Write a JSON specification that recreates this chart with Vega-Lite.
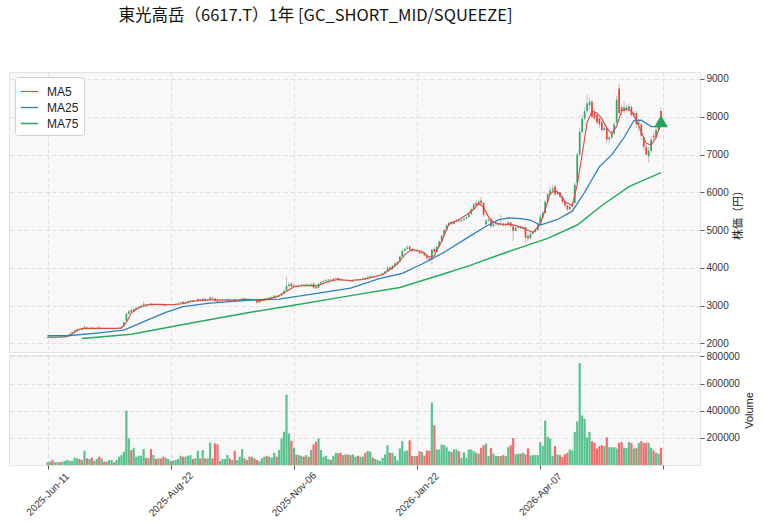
{
"$schema": "https://vega.github.io/schema/vega-lite/v6.json",
"padding": {"left": 8, "top": 8, "right": 0, "bottom": 0},
"background": "white",
"title": {"text": "東光高岳（6617.T）1年 [GC_SHORT_MID/SQUEEZE]", "font": "Noto Sans CJK JP", "fontSize": 16.5, "fontWeight": "normal", "color": "#111", "anchor": "start", "dx": 110, "offset": 47},
"datasets": {
"px": [
{"i":0,"o":2140,"h":2160,"l":2130,"c":2150,"v":20000},
{"i":1,"o":2150,"h":2170,"l":2140,"c":2160,"v":25000},
{"i":2,"o":2160,"h":2170,"l":2130,"c":2140,"v":37000},
{"i":3,"o":2140,"h":2160,"l":2130,"c":2150,"v":20000},
{"i":4,"o":2150,"h":2170,"l":2140,"c":2160,"v":22000},
{"i":5,"o":2160,"h":2170,"l":2140,"c":2150,"v":20000},
{"i":6,"o":2150,"h":2170,"l":2140,"c":2160,"v":24000},
{"i":7,"o":2160,"h":2180,"l":2150,"c":2170,"v":30000},
{"i":8,"o":2170,"h":2210,"l":2160,"c":2200,"v":37000},
{"i":9,"o":2200,"h":2270,"l":2190,"c":2250,"v":30000},
{"i":10,"o":2250,"h":2310,"l":2240,"c":2290,"v":32000},
{"i":11,"o":2290,"h":2360,"l":2280,"c":2340,"v":54000},
{"i":12,"o":2340,"h":2400,"l":2330,"c":2370,"v":49000},
{"i":13,"o":2380,"h":2400,"l":2340,"c":2360,"v":44000},
{"i":14,"o":2360,"h":2410,"l":2350,"c":2390,"v":37000},
{"i":15,"o":2390,"h":2480,"l":2380,"c":2430,"v":105000},
{"i":16,"o":2420,"h":2440,"l":2390,"c":2400,"v":49000},
{"i":17,"o":2400,"h":2430,"l":2390,"c":2410,"v":44000},
{"i":18,"o":2420,"h":2440,"l":2370,"c":2380,"v":54000},
{"i":19,"o":2380,"h":2410,"l":2370,"c":2400,"v":30000},
{"i":20,"o":2400,"h":2420,"l":2390,"c":2410,"v":44000},
{"i":21,"o":2420,"h":2450,"l":2370,"c":2380,"v":61000},
{"i":22,"o":2380,"h":2410,"l":2370,"c":2400,"v":49000},
{"i":23,"o":2400,"h":2410,"l":2380,"c":2390,"v":24000},
{"i":24,"o":2390,"h":2400,"l":2370,"c":2380,"v":24000},
{"i":25,"o":2380,"h":2400,"l":2370,"c":2390,"v":37000},
{"i":26,"o":2390,"h":2410,"l":2380,"c":2400,"v":37000},
{"i":27,"o":2400,"h":2410,"l":2370,"c":2380,"v":20000},
{"i":28,"o":2380,"h":2400,"l":2370,"c":2390,"v":37000},
{"i":29,"o":2390,"h":2420,"l":2380,"c":2410,"v":61000},
{"i":30,"o":2410,"h":2460,"l":2400,"c":2440,"v":73000},
{"i":31,"o":2450,"h":2580,"l":2440,"c":2560,"v":98000},
{"i":32,"o":2600,"h":2820,"l":2580,"c":2780,"v":399000},
{"i":33,"o":2780,"h":2880,"l":2760,"c":2850,"v":196000},
{"i":34,"o":2880,"h":2920,"l":2820,"c":2840,"v":110000},
{"i":35,"o":2840,"h":2930,"l":2830,"c":2900,"v":127000},
{"i":36,"o":2900,"h":2960,"l":2890,"c":2940,"v":61000},
{"i":37,"o":2940,"h":2990,"l":2930,"c":2970,"v":68000},
{"i":38,"o":2970,"h":3020,"l":2960,"c":3000,"v":68000},
{"i":39,"o":3000,"h":3100,"l":2990,"c":3040,"v":117000},
{"i":40,"o":3040,"h":3050,"l":3000,"c":3020,"v":54000},
{"i":41,"o":3020,"h":3050,"l":3010,"c":3040,"v":49000},
{"i":42,"o":3050,"h":3070,"l":3000,"c":3010,"v":117000},
{"i":43,"o":3010,"h":3040,"l":3000,"c":3030,"v":73000},
{"i":44,"o":3030,"h":3040,"l":3010,"c":3020,"v":44000},
{"i":45,"o":3020,"h":3040,"l":3010,"c":3030,"v":49000},
{"i":46,"o":3030,"h":3040,"l":3000,"c":3010,"v":49000},
{"i":47,"o":3020,"h":3030,"l":2990,"c":3000,"v":61000},
{"i":48,"o":3000,"h":3030,"l":2990,"c":3020,"v":54000},
{"i":49,"o":3020,"h":3040,"l":3010,"c":3030,"v":44000},
{"i":50,"o":3030,"h":3040,"l":3010,"c":3020,"v":29000},
{"i":51,"o":3020,"h":3040,"l":3010,"c":3030,"v":32000},
{"i":52,"o":3030,"h":3050,"l":3020,"c":3040,"v":37000},
{"i":53,"o":3040,"h":3070,"l":3030,"c":3060,"v":44000},
{"i":54,"o":3060,"h":3100,"l":3050,"c":3090,"v":68000},
{"i":55,"o":3100,"h":3110,"l":3050,"c":3060,"v":61000},
{"i":56,"o":3060,"h":3100,"l":3050,"c":3090,"v":61000},
{"i":57,"o":3090,"h":3130,"l":3080,"c":3120,"v":68000},
{"i":58,"o":3120,"h":3150,"l":3110,"c":3140,"v":73000},
{"i":59,"o":3140,"h":3150,"l":3110,"c":3120,"v":44000},
{"i":60,"o":3120,"h":3140,"l":3110,"c":3130,"v":49000},
{"i":61,"o":3120,"h":3200,"l":3110,"c":3170,"v":105000},
{"i":62,"o":3170,"h":3180,"l":3130,"c":3140,"v":49000},
{"i":63,"o":3140,"h":3200,"l":3130,"c":3180,"v":110000},
{"i":64,"o":3180,"h":3190,"l":3140,"c":3150,"v":49000},
{"i":65,"o":3150,"h":3170,"l":3140,"c":3160,"v":49000},
{"i":66,"o":3150,"h":3240,"l":3140,"c":3210,"v":164000},
{"i":67,"o":3210,"h":3220,"l":3180,"c":3190,"v":49000},
{"i":68,"o":3190,"h":3200,"l":3100,"c":3120,"v":159000},
{"i":69,"o":3130,"h":3140,"l":3060,"c":3090,"v":152000},
{"i":70,"o":3090,"h":3120,"l":3080,"c":3110,"v":29000},
{"i":71,"o":3110,"h":3140,"l":3100,"c":3130,"v":44000},
{"i":72,"o":3130,"h":3150,"l":3120,"c":3140,"v":44000},
{"i":73,"o":3140,"h":3190,"l":3130,"c":3170,"v":73000},
{"i":74,"o":3170,"h":3180,"l":3140,"c":3150,"v":49000},
{"i":75,"o":3150,"h":3170,"l":3140,"c":3160,"v":37000},
{"i":76,"o":3170,"h":3180,"l":3110,"c":3120,"v":105000},
{"i":77,"o":3120,"h":3150,"l":3110,"c":3140,"v":37000},
{"i":78,"o":3140,"h":3170,"l":3130,"c":3160,"v":61000},
{"i":79,"o":3160,"h":3210,"l":3150,"c":3190,"v":117000},
{"i":80,"o":3190,"h":3200,"l":3160,"c":3170,"v":49000},
{"i":81,"o":3170,"h":3190,"l":3160,"c":3180,"v":37000},
{"i":82,"o":3180,"h":3190,"l":3140,"c":3150,"v":61000},
{"i":83,"o":3150,"h":3170,"l":3140,"c":3160,"v":61000},
{"i":84,"o":3160,"h":3170,"l":3120,"c":3130,"v":49000},
{"i":85,"o":3130,"h":3140,"l":3050,"c":3080,"v":37000},
{"i":86,"o":3080,"h":3130,"l":3070,"c":3120,"v":29000},
{"i":87,"o":3120,"h":3170,"l":3110,"c":3160,"v":49000},
{"i":88,"o":3160,"h":3200,"l":3150,"c":3190,"v":61000},
{"i":89,"o":3200,"h":3210,"l":3170,"c":3180,"v":68000},
{"i":90,"o":3180,"h":3220,"l":3170,"c":3210,"v":61000},
{"i":91,"o":3210,"h":3240,"l":3200,"c":3230,"v":54000},
{"i":92,"o":3230,"h":3280,"l":3220,"c":3260,"v":90000},
{"i":93,"o":3260,"h":3270,"l":3230,"c":3240,"v":61000},
{"i":94,"o":3240,"h":3290,"l":3230,"c":3270,"v":110000},
{"i":95,"o":3270,"h":3350,"l":3260,"c":3320,"v":196000},
{"i":96,"o":3320,"h":3420,"l":3310,"c":3390,"v":245000},
{"i":97,"o":3400,"h":3760,"l":3390,"c":3520,"v":519000},
{"i":98,"o":3520,"h":3620,"l":3480,"c":3560,"v":232000},
{"i":99,"o":3580,"h":3610,"l":3480,"c":3500,"v":178000},
{"i":100,"o":3500,"h":3560,"l":3490,"c":3530,"v":127000},
{"i":101,"o":3530,"h":3540,"l":3490,"c":3510,"v":78000},
{"i":102,"o":3510,"h":3550,"l":3500,"c":3530,"v":73000},
{"i":103,"o":3530,"h":3570,"l":3520,"c":3550,"v":68000},
{"i":104,"o":3550,"h":3560,"l":3510,"c":3530,"v":61000},
{"i":105,"o":3530,"h":3580,"l":3520,"c":3560,"v":73000},
{"i":106,"o":3560,"h":3570,"l":3510,"c":3530,"v":61000},
{"i":107,"o":3530,"h":3600,"l":3520,"c":3560,"v":110000},
{"i":108,"o":3580,"h":3600,"l":3440,"c":3480,"v":152000},
{"i":109,"o":3500,"h":3530,"l":3430,"c":3460,"v":171000},
{"i":110,"o":3470,"h":3600,"l":3460,"c":3580,"v":196000},
{"i":111,"o":3580,"h":3640,"l":3570,"c":3620,"v":110000},
{"i":112,"o":3620,"h":3670,"l":3610,"c":3650,"v":61000},
{"i":113,"o":3650,"h":3690,"l":3640,"c":3670,"v":68000},
{"i":114,"o":3670,"h":3700,"l":3660,"c":3690,"v":44000},
{"i":115,"o":3690,"h":3700,"l":3670,"c":3680,"v":37000},
{"i":116,"o":3680,"h":3730,"l":3670,"c":3710,"v":68000},
{"i":117,"o":3710,"h":3750,"l":3700,"c":3730,"v":90000},
{"i":118,"o":3730,"h":3740,"l":3690,"c":3700,"v":86000},
{"i":119,"o":3700,"h":3710,"l":3650,"c":3660,"v":90000},
{"i":120,"o":3660,"h":3690,"l":3650,"c":3670,"v":73000},
{"i":121,"o":3670,"h":3680,"l":3640,"c":3650,"v":78000},
{"i":122,"o":3650,"h":3680,"l":3640,"c":3670,"v":78000},
{"i":123,"o":3670,"h":3680,"l":3630,"c":3640,"v":73000},
{"i":124,"o":3640,"h":3690,"l":3630,"c":3670,"v":78000},
{"i":125,"o":3670,"h":3700,"l":3660,"c":3690,"v":61000},
{"i":126,"o":3690,"h":3700,"l":3660,"c":3670,"v":68000},
{"i":127,"o":3670,"h":3710,"l":3660,"c":3700,"v":61000},
{"i":128,"o":3700,"h":3730,"l":3690,"c":3720,"v":61000},
{"i":129,"o":3730,"h":3750,"l":3680,"c":3700,"v":90000},
{"i":130,"o":3700,"h":3780,"l":3690,"c":3750,"v":105000},
{"i":131,"o":3750,"h":3800,"l":3740,"c":3780,"v":98000},
{"i":132,"o":3780,"h":3790,"l":3750,"c":3760,"v":54000},
{"i":133,"o":3760,"h":3790,"l":3750,"c":3780,"v":44000},
{"i":134,"o":3780,"h":3810,"l":3770,"c":3800,"v":37000},
{"i":135,"o":3800,"h":3830,"l":3790,"c":3810,"v":29000},
{"i":136,"o":3810,"h":3870,"l":3800,"c":3850,"v":53000},
{"i":137,"o":3850,"h":3920,"l":3840,"c":3900,"v":78000},
{"i":138,"o":3900,"h":4050,"l":3890,"c":4000,"v":146000},
{"i":139,"o":4010,"h":4030,"l":3940,"c":3960,"v":90000},
{"i":140,"o":3960,"h":4080,"l":3950,"c":4050,"v":90000},
{"i":141,"o":4050,"h":4140,"l":4040,"c":4120,"v":66000},
{"i":142,"o":4120,"h":4180,"l":4110,"c":4160,"v":34000},
{"i":143,"o":4160,"h":4330,"l":4150,"c":4300,"v":122000},
{"i":144,"o":4300,"h":4500,"l":4290,"c":4450,"v":175000},
{"i":145,"o":4450,"h":4530,"l":4430,"c":4500,"v":102000},
{"i":146,"o":4500,"h":4600,"l":4490,"c":4540,"v":107000},
{"i":147,"o":4560,"h":4600,"l":4460,"c":4480,"v":182000},
{"i":148,"o":4480,"h":4500,"l":4420,"c":4440,"v":66000},
{"i":149,"o":4440,"h":4480,"l":4420,"c":4460,"v":66000},
{"i":150,"o":4460,"h":4480,"l":4420,"c":4440,"v":66000},
{"i":151,"o":4440,"h":4460,"l":4360,"c":4380,"v":102000},
{"i":152,"o":4380,"h":4420,"l":4370,"c":4400,"v":95000},
{"i":153,"o":4400,"h":4410,"l":4300,"c":4330,"v":70000},
{"i":154,"o":4330,"h":4340,"l":4220,"c":4250,"v":107000},
{"i":155,"o":4250,"h":4270,"l":4170,"c":4200,"v":107000},
{"i":156,"o":4210,"h":4500,"l":4100,"c":4480,"v":459000},
{"i":157,"o":4500,"h":4560,"l":4380,"c":4420,"v":292000},
{"i":158,"o":4420,"h":4580,"l":4410,"c":4560,"v":114000},
{"i":159,"o":4560,"h":4720,"l":4550,"c":4700,"v":114000},
{"i":160,"o":4700,"h":4880,"l":4690,"c":4850,"v":151000},
{"i":161,"o":4850,"h":5030,"l":4840,"c":5000,"v":146000},
{"i":162,"o":5000,"h":5150,"l":4990,"c":5120,"v":131000},
{"i":163,"o":5120,"h":5220,"l":5100,"c":5180,"v":102000},
{"i":164,"o":5200,"h":5230,"l":5130,"c":5160,"v":95000},
{"i":165,"o":5160,"h":5250,"l":5150,"c":5220,"v":114000},
{"i":166,"o":5220,"h":5290,"l":5210,"c":5260,"v":114000},
{"i":167,"o":5260,"h":5280,"l":5200,"c":5230,"v":102000},
{"i":168,"o":5230,"h":5280,"l":5220,"c":5260,"v":53000},
{"i":169,"o":5260,"h":5330,"l":5250,"c":5300,"v":95000},
{"i":170,"o":5300,"h":5360,"l":5290,"c":5340,"v":53000},
{"i":171,"o":5340,"h":5450,"l":5330,"c":5420,"v":114000},
{"i":172,"o":5420,"h":5600,"l":5410,"c":5550,"v":114000},
{"i":173,"o":5550,"h":5720,"l":5540,"c":5680,"v":102000},
{"i":174,"o":5720,"h":5760,"l":5640,"c":5660,"v":90000},
{"i":175,"o":5660,"h":5800,"l":5650,"c":5760,"v":83000},
{"i":176,"o":5780,"h":5880,"l":5680,"c":5700,"v":126000},
{"i":177,"o":5720,"h":5740,"l":5350,"c":5400,"v":146000},
{"i":178,"o":5150,"h":5300,"l":5100,"c":5250,"v":158000},
{"i":179,"o":5250,"h":5320,"l":5200,"c":5280,"v":66000},
{"i":180,"o":5280,"h":5300,"l":5050,"c":5100,"v":126000},
{"i":181,"o":5100,"h":5180,"l":5080,"c":5150,"v":83000},
{"i":182,"o":5150,"h":5220,"l":5130,"c":5180,"v":66000},
{"i":183,"o":5180,"h":5190,"l":5100,"c":5130,"v":66000},
{"i":184,"o":5130,"h":5400,"l":5120,"c":5160,"v":66000},
{"i":185,"o":5170,"h":5190,"l":5100,"c":5120,"v":73000},
{"i":186,"o":5120,"h":5180,"l":5100,"c":5150,"v":66000},
{"i":187,"o":5150,"h":5230,"l":5130,"c":5200,"v":131000},
{"i":188,"o":5200,"h":5220,"l":5080,"c":5100,"v":146000},
{"i":189,"o":5100,"h":5120,"l":4720,"c":4980,"v":199000},
{"i":190,"o":4980,"h":5100,"l":4960,"c":5060,"v":78000},
{"i":191,"o":5060,"h":5130,"l":5040,"c":5100,"v":83000},
{"i":192,"o":5100,"h":5120,"l":5030,"c":5050,"v":83000},
{"i":193,"o":5050,"h":5100,"l":5030,"c":5080,"v":90000},
{"i":194,"o":5080,"h":5090,"l":4650,"c":4800,"v":78000},
{"i":195,"o":4850,"h":4900,"l":4700,"c":4780,"v":122000},
{"i":196,"o":4780,"h":4950,"l":4760,"c":4900,"v":70000},
{"i":197,"o":4900,"h":4980,"l":4880,"c":4950,"v":73000},
{"i":198,"o":4950,"h":5050,"l":4930,"c":5000,"v":73000},
{"i":199,"o":5000,"h":5200,"l":4990,"c":5150,"v":73000},
{"i":200,"o":5150,"h":5420,"l":5140,"c":5350,"v":168000},
{"i":201,"o":5350,"h":5500,"l":5300,"c":5450,"v":140000},
{"i":202,"o":5450,"h":5800,"l":5430,"c":5750,"v":328000},
{"i":203,"o":5750,"h":6000,"l":5720,"c":5950,"v":207000},
{"i":204,"o":5950,"h":6150,"l":5900,"c":6050,"v":194000},
{"i":205,"o":6050,"h":6200,"l":6000,"c":6100,"v":66000},
{"i":206,"o":6150,"h":6200,"l":5900,"c":5950,"v":139000},
{"i":207,"o":5950,"h":6100,"l":5920,"c":6000,"v":78000},
{"i":208,"o":6000,"h":6020,"l":5850,"c":5880,"v":73000},
{"i":209,"o":5880,"h":5900,"l":5700,"c":5750,"v":58000},
{"i":210,"o":5750,"h":5780,"l":5600,"c":5650,"v":78000},
{"i":211,"o":5650,"h":5680,"l":5500,"c":5550,"v":90000},
{"i":212,"o":5550,"h":5650,"l":5520,"c":5620,"v":114000},
{"i":213,"o":5620,"h":5750,"l":5600,"c":5700,"v":107000},
{"i":214,"o":5720,"h":6250,"l":5700,"c":6200,"v":243000},
{"i":215,"o":6250,"h":7050,"l":6200,"c":7000,"v":321000},
{"i":216,"o":7000,"h":7700,"l":6950,"c":7600,"v":751000},
{"i":217,"o":7600,"h":8050,"l":7550,"c":7950,"v":365000},
{"i":218,"o":7950,"h":8250,"l":7900,"c":8150,"v":340000},
{"i":219,"o":8150,"h":8580,"l":8100,"c":8350,"v":204000},
{"i":220,"o":8300,"h":8500,"l":8200,"c":8400,"v":243000},
{"i":221,"o":8400,"h":8450,"l":7950,"c":8000,"v":175000},
{"i":222,"o":8100,"h":8200,"l":7900,"c":7950,"v":163000},
{"i":223,"o":8050,"h":8100,"l":7800,"c":7850,"v":122000},
{"i":224,"o":7950,"h":8000,"l":7700,"c":7800,"v":139000},
{"i":225,"o":7850,"h":7900,"l":7600,"c":7650,"v":146000},
{"i":226,"o":7650,"h":7800,"l":7600,"c":7700,"v":139000},
{"i":227,"o":7700,"h":7750,"l":7300,"c":7400,"v":204000},
{"i":228,"o":7400,"h":7500,"l":7300,"c":7450,"v":131000},
{"i":229,"o":7450,"h":7650,"l":7400,"c":7550,"v":131000},
{"i":230,"o":7550,"h":7850,"l":7500,"c":7800,"v":131000},
{"i":231,"o":7850,"h":8550,"l":7800,"c":8450,"v":122000},
{"i":232,"o":8750,"h":8870,"l":8050,"c":8100,"v":163000},
{"i":233,"o":8250,"h":8300,"l":8050,"c":8150,"v":170000},
{"i":234,"o":8150,"h":8400,"l":8100,"c":8250,"v":126000},
{"i":235,"o":8200,"h":8320,"l":8150,"c":8250,"v":126000},
{"i":236,"o":8200,"h":8350,"l":8150,"c":8280,"v":170000},
{"i":237,"o":8250,"h":8300,"l":8000,"c":8050,"v":163000},
{"i":238,"o":8050,"h":8150,"l":7950,"c":8100,"v":122000},
{"i":239,"o":8100,"h":8150,"l":7700,"c":7800,"v":126000},
{"i":240,"o":7800,"h":7950,"l":7600,"c":7850,"v":163000},
{"i":241,"o":7800,"h":7850,"l":7400,"c":7500,"v":175000},
{"i":242,"o":7450,"h":7500,"l":7100,"c":7200,"v":163000},
{"i":243,"o":7200,"h":7300,"l":6950,"c":7000,"v":163000},
{"i":244,"o":6950,"h":7200,"l":6780,"c":7100,"v":163000},
{"i":245,"o":7100,"h":7450,"l":7050,"c":7400,"v":126000},
{"i":246,"o":7500,"h":7600,"l":7350,"c":7450,"v":107000},
{"i":247,"o":7450,"h":7700,"l":7400,"c":7650,"v":90000},
{"i":248,"o":7650,"h":7850,"l":7600,"c":7800,"v":83000},
{"i":249,"o":8150,"h":8250,"l":7850,"c":7900,"v":126000}
],
"ma": [
{"k":"MA5","i":0,"p":2160},{"k":"MA5","i":4,"p":2160},{"k":"MA5","i":8,"p":2180},{"k":"MA5","i":10,"p":2250},{"k":"MA5","i":12,"p":2340},{"k":"MA5","i":14,"p":2390},{"k":"MA5","i":20,"p":2400},{"k":"MA5","i":26,"p":2395},{"k":"MA5","i":30,"p":2400},{"k":"MA5","i":32,"p":2550},{"k":"MA5","i":34,"p":2800},{"k":"MA5","i":36,"p":2900},{"k":"MA5","i":38,"p":2960},{"k":"MA5","i":40,"p":3000},{"k":"MA5","i":42,"p":3030},{"k":"MA5","i":46,"p":3030},{"k":"MA5","i":50,"p":3020},{"k":"MA5","i":54,"p":3040},{"k":"MA5","i":56,"p":3060},{"k":"MA5","i":58,"p":3100},{"k":"MA5","i":60,"p":3120},{"k":"MA5","i":66,"p":3150},{"k":"MA5","i":70,"p":3150},{"k":"MA5","i":74,"p":3140},{"k":"MA5","i":80,"p":3160},{"k":"MA5","i":84,"p":3160},{"k":"MA5","i":86,"p":3130},{"k":"MA5","i":88,"p":3140},{"k":"MA5","i":90,"p":3180},{"k":"MA5","i":93,"p":3230},{"k":"MA5","i":96,"p":3330},{"k":"MA5","i":98,"p":3420},{"k":"MA5","i":100,"p":3490},{"k":"MA5","i":104,"p":3530},{"k":"MA5","i":108,"p":3520},{"k":"MA5","i":110,"p":3530},{"k":"MA5","i":114,"p":3640},{"k":"MA5","i":118,"p":3690},{"k":"MA5","i":123,"p":3665},{"k":"MA5","i":128,"p":3690},{"k":"MA5","i":132,"p":3750},{"k":"MA5","i":136,"p":3820},{"k":"MA5","i":139,"p":3950},{"k":"MA5","i":142,"p":4100},{"k":"MA5","i":145,"p":4350},{"k":"MA5","i":148,"p":4490},{"k":"MA5","i":152,"p":4430},{"k":"MA5","i":155,"p":4280},{"k":"MA5","i":157,"p":4320},{"k":"MA5","i":160,"p":4700},{"k":"MA5","i":163,"p":5180},{"k":"MA5","i":166,"p":5240},{"k":"MA5","i":170,"p":5400},{"k":"MA5","i":173,"p":5550},{"k":"MA5","i":175,"p":5700},{"k":"MA5","i":177,"p":5600},{"k":"MA5","i":179,"p":5350},{"k":"MA5","i":181,"p":5200},{"k":"MA5","i":184,"p":5160},{"k":"MA5","i":188,"p":5150},{"k":"MA5","i":191,"p":5100},{"k":"MA5","i":194,"p":5020},{"k":"MA5","i":197,"p":4940},{"k":"MA5","i":200,"p":5150},{"k":"MA5","i":202,"p":5550},{"k":"MA5","i":204,"p":5950},{"k":"MA5","i":206,"p":6050},{"k":"MA5","i":208,"p":5950},{"k":"MA5","i":210,"p":5750},{"k":"MA5","i":213,"p":5650},{"k":"MA5","i":215,"p":6200},{"k":"MA5","i":217,"p":7000},{"k":"MA5","i":219,"p":7850},{"k":"MA5","i":221,"p":8150},{"k":"MA5","i":223,"p":8100},{"k":"MA5","i":225,"p":7950},{"k":"MA5","i":227,"p":7700},{"k":"MA5","i":229,"p":7550},{"k":"MA5","i":231,"p":7750},{"k":"MA5","i":233,"p":8150},{"k":"MA5","i":235,"p":8200},{"k":"MA5","i":237,"p":8150},{"k":"MA5","i":239,"p":7900},{"k":"MA5","i":241,"p":7600},{"k":"MA5","i":243,"p":7300},{"k":"MA5","i":245,"p":7250},{"k":"MA5","i":247,"p":7450},{"k":"MA5","i":249,"p":7820},
{"k":"MA25","i":0,"p":2200},{"k":"MA25","i":8,"p":2200},{"k":"MA25","i":20,"p":2270},{"k":"MA25","i":31,"p":2350},{"k":"MA25","i":40,"p":2600},{"k":"MA25","i":48,"p":2820},{"k":"MA25","i":55,"p":2970},{"k":"MA25","i":65,"p":3060},{"k":"MA25","i":75,"p":3110},{"k":"MA25","i":83,"p":3147},{"k":"MA25","i":94,"p":3170},{"k":"MA25","i":110,"p":3330},{"k":"MA25","i":123,"p":3460},{"k":"MA25","i":135,"p":3720},{"k":"MA25","i":144,"p":3850},{"k":"MA25","i":152,"p":4100},{"k":"MA25","i":161,"p":4410},{"k":"MA25","i":170,"p":4780},{"k":"MA25","i":178,"p":5100},{"k":"MA25","i":183,"p":5270},{"k":"MA25","i":187,"p":5320},{"k":"MA25","i":192,"p":5300},{"k":"MA25","i":196,"p":5265},{"k":"MA25","i":200,"p":5130},{"k":"MA25","i":207,"p":5280},{"k":"MA25","i":213,"p":5500},{"k":"MA25","i":218,"p":6000},{"k":"MA25","i":224,"p":6680},{"k":"MA25","i":229,"p":6990},{"k":"MA25","i":234,"p":7450},{"k":"MA25","i":238,"p":7900},{"k":"MA25","i":241,"p":7910},{"k":"MA25","i":245,"p":7740},{"k":"MA25","i":249,"p":7740},
{"k":"MA75","i":14,"p":2130},{"k":"MA75","i":34,"p":2238},{"k":"MA75","i":60,"p":2560},{"k":"MA75","i":83,"p":2830},{"k":"MA75","i":100,"p":3010},{"k":"MA75","i":120,"p":3230},{"k":"MA75","i":143,"p":3480},{"k":"MA75","i":161,"p":3840},{"k":"MA75","i":171,"p":4050},{"k":"MA75","i":184,"p":4360},{"k":"MA75","i":203,"p":4780},{"k":"MA75","i":215,"p":5133},{"k":"MA75","i":225,"p":5650},{"k":"MA75","i":236,"p":6150},{"k":"MA75","i":249,"p":6520}
],
"sig": [{"i":249,"p":7880}]
},
"vconcat": [
{
"width": 691, "height": 280,
"layer": [
{"data": {"name": "px"}, "mark": {"type": "rule", "color": "#b8b8b8", "strokeWidth": 0.9},
 "encoding": {"x": {"field": "i", "type": "quantitative", "scale": {"domain": [-13.6, 262.8], "nice": false, "zero": false}, "axis": {"values": [0,50,100,150,200,250], "labels": false, "ticks": false, "tickSize": 0, "labelPadding": 0, "domain": false, "title": null, "grid": true}},
  "y": {"field": "l", "type": "quantitative", "scale": {"domain": [1770, 9185], "nice": false, "zero": false}, "axis": {"orient": "right", "values": [2000,3000,4000,5000,6000,7000,8000,9000], "tickCount": 8, "format": "d", "labelOverlap": false, "title": "株価（円）", "titleFont": "Noto Sans CJK JP", "titleFontSize": 11, "titleAngle": 270, "titleBaseline": "top", "titleFontWeight": "normal", "titlePadding": 4}},
  "y2": {"field": "h"}}},
{"data": {"name": "px"}, "mark": {"type": "bar", "width": 1.7},
 "encoding": {"x": {"field": "i", "type": "quantitative"}, "y": {"field": "o", "type": "quantitative", "axis": {"orient": "right", "values": [2000,3000,4000,5000,6000,7000,8000,9000], "tickCount": 8, "format": "d", "labelOverlap": false, "title": "株価（円）", "titleFont": "Noto Sans CJK JP", "titleFontSize": 11, "titleAngle": 270, "titleBaseline": "top", "titleFontWeight": "normal", "titlePadding": 4}}, "y2": {"field": "c"},
  "color": {"condition": {"test": "datum.c >= datum.o", "value": "#2ea86a"}, "value": "#e8453c"}}},
{"data": {"name": "ma"}, "mark": {"type": "line"},
 "encoding": {"x": {"field": "i", "type": "quantitative"}, "y": {"field": "p", "type": "quantitative", "axis": {"orient": "right", "values": [2000,3000,4000,5000,6000,7000,8000,9000], "tickCount": 8, "format": "d", "labelOverlap": false, "title": "株価（円）", "titleFont": "Noto Sans CJK JP", "titleFontSize": 11, "titleAngle": 270, "titleBaseline": "top", "titleFontWeight": "normal", "titlePadding": 4}},
  "color": {"field": "k", "type": "nominal", "scale": {"domain": ["MA5","MA25","MA75"], "range": ["#e2463c","#2f7fbc","#27ab5e"]},
   "legend": {"title": null, "orient": "none", "legendX": 6, "legendY": 5, "symbolType": "stroke", "symbolSize": 300, "symbolStrokeWidth": 1.6, "labelFont": "Liberation Sans", "labelFontSize": 12, "labelColor": "#222", "fillColor": "white", "strokeColor": "#d0d0d0", "cornerRadius": 3, "padding": 5, "rowPadding": -1, "labelOffset": 8}},
  "strokeWidth": {"field": "k", "type": "nominal", "scale": {"domain": ["MA5","MA25","MA75"], "range": [1.1, 1.5, 2]}, "legend": null}}},
{"data": {"name": "sig"}, "mark": {"type": "point", "shape": "triangle-up", "filled": true, "size": 190, "color": "#27a35c", "opacity": 1},
 "encoding": {"x": {"field": "i", "type": "quantitative"}, "y": {"field": "p", "type": "quantitative", "axis": {"orient": "right", "values": [2000,3000,4000,5000,6000,7000,8000,9000], "tickCount": 8, "format": "d", "labelOverlap": false, "title": "株価（円）", "titleFont": "Noto Sans CJK JP", "titleFontSize": 11, "titleAngle": 270, "titleBaseline": "top", "titleFontWeight": "normal", "titlePadding": 4}}}}
]
},
{
"width": 691, "height": 110,
"data": {"name": "px"},
"mark": {"type": "bar", "width": 2.2, "opacity": 0.85},
"encoding": {
 "x": {"field": "i", "type": "quantitative", "scale": {"domain": [-13.6, 262.8], "nice": false, "zero": false},
  "axis": {"values": [0,50,100,150,200,250], "labelExpr": "datum.value==0?'2025-Jun-11':datum.value==50?'2025-Aug-22':datum.value==100?'2025-Nov-06':datum.value==150?'2026-Jan-22':datum.value==200?'2026-Apr-07':''", "labelAngle": -45, "labelAlign": "center", "labelBaseline": "middle", "labelPadding": 25, "labelOverlap": false, "labelBound": false, "title": null, "grid": true}},
 "y": {"field": "v", "type": "quantitative", "scale": {"domain": [0, 810000], "nice": false},
  "axis": {"orient": "right", "values": [200000,400000,600000,800000], "format": "d", "labelOverlap": false, "title": "Volume", "titleFont": "Liberation Sans", "titleFontSize": 11, "titleAngle": 270, "titleBaseline": "top", "titleFontWeight": "normal", "titlePadding": 4}},
 "color": {"condition": {"test": "datum.c >= datum.o", "value": "#3dba7e"}, "value": "#f25555"}
}
}
],
"spacing": -3,
"config": {
 "view": {"stroke": "#e2e2e2", "fill": "#f8f8f8"},
 "axis": {"gridColor": "#d8d8d8", "gridDash": [4, 3], "gridWidth": 0.8, "labelFont": "Liberation Sans", "labelFontSize": 10, "labelColor": "#333", "tickColor": "#555", "tickSize": 4, "labelPadding": 2, "domain": false, "titleColor": "#222"}
}
}
